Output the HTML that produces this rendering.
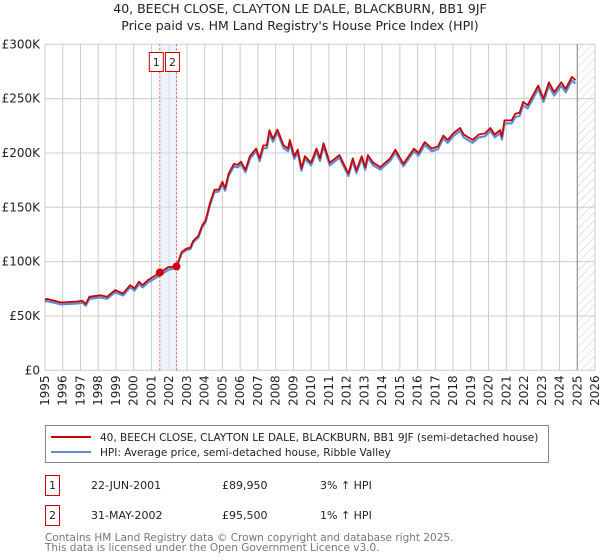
<!DOCTYPE html>
<html><head><meta charset="utf-8"><style>
body{margin:0;background:#fff;width:600px;height:560px;overflow:hidden;font-family:"Liberation Sans","DejaVu Sans",sans-serif}
svg{position:absolute;left:0;top:0}
</style></head><body>
<svg id="chart" width="600" height="560" xmlns="http://www.w3.org/2000/svg" font-family="DejaVu Sans, Liberation Sans, sans-serif">
<defs><pattern id="hatch" width="6" height="6" patternUnits="userSpaceOnUse" patternTransform="rotate(45)"><line x1="0" y1="0" x2="0" y2="6" stroke="#ccc" stroke-width="1"/></pattern></defs>
<text x="300" y="13" text-anchor="middle" font-size="12.5" fill="#222">40, BEECH CLOSE, CLAYTON LE DALE, BLACKBURN, BB1 9JF</text>
<text x="300" y="30" text-anchor="middle" font-size="12.5" fill="#222">Price paid vs. HM Land Registry's House Price Index (HPI)</text>
<g id="grid"></g><g id="marks"></g><g id="axes"></g>
<rect x="45.5" y="425.5" width="503" height="37" fill="#fff" stroke="#888"/>
<line x1="51" y1="437" x2="91" y2="437" stroke="#cc0000" stroke-width="2"/>
<text x="100" y="441" font-size="10.5" fill="#222">40, BEECH CLOSE, CLAYTON LE DALE, BLACKBURN, BB1 9JF (semi-detached house)</text>
<line x1="51" y1="452" x2="91" y2="452" stroke="#5b8fd0" stroke-width="2"/>
<text x="100" y="456" font-size="10.5" fill="#222">HPI: Average price, semi-detached house, Ribble Valley</text>
<g font-size="11" fill="#222">
<rect x="45.5" y="475.5" width="14" height="20" fill="none" stroke="#cc0000"/>
<text x="52.5" y="489" text-anchor="middle">1</text>
<text x="91" y="489">22-JUN-2001</text><text x="222" y="489">£89,950</text><text x="320" y="489">3% ↑ HPI</text></g>
<g font-size="11" fill="#222">
<rect x="45.5" y="505.5" width="14" height="20" fill="none" stroke="#cc0000"/>
<text x="52.5" y="519" text-anchor="middle">2</text>
<text x="91" y="519">31-MAY-2002</text><text x="222" y="519">£95,500</text><text x="320" y="519">1% ↑ HPI</text></g>
<text x="45" y="541" font-size="10.5" fill="#777">Contains HM Land Registry data © Crown copyright and database right 2025.</text>
<text x="45" y="551" font-size="10.5" fill="#777">This data is licensed under the Open Government Licence v3.0.</text>
</svg>
<script>
const dates=[1995.0,1995.1,1995.5,1995.9,1996.8,1997.1,1997.3,1997.5,1998.1,1998.5,1998.95,1999.4,1999.8,2000.05,2000.3,2000.5,2000.8,2001.47,2001.95,2002.41,2002.7,2002.95,2003.2,2003.35,2003.65,2003.85,2004.05,2004.3,2004.55,2004.8,2005.0,2005.15,2005.35,2005.65,2005.85,2006.05,2006.3,2006.55,2006.9,2007.1,2007.3,2007.5,2007.65,2007.85,2008.1,2008.45,2008.7,2008.8,2009.05,2009.25,2009.45,2009.65,2010.0,2010.3,2010.5,2010.7,2011.05,2011.6,2012.1,2012.35,2012.55,2012.85,2013.05,2013.2,2013.5,2013.9,2014.45,2014.75,2015.2,2015.8,2016.05,2016.4,2016.8,2017.15,2017.45,2017.7,2018.0,2018.4,2018.6,2019.1,2019.45,2019.8,2020.1,2020.35,2020.65,2020.75,2020.9,2021.3,2021.5,2021.75,2021.95,2022.2,2022.6,2022.8,2023.1,2023.4,2023.7,2024.1,2024.35,2024.7,2024.9];
const priceValues=[65,65.7,64.1,62.4,63.3,64,61.1,67.6,69,67.6,73.8,70.7,78.4,75.3,81.5,78.4,83,89.95,95,95.5,108.7,111.8,113,119,124,133,138,154,166,166.5,173.6,167.5,181,190,189,192,184.5,197,204,195,207,207,221,213,221.6,207,204,212,197,203,186,197,191,204,195,209,191,198,181,195,184,197,187,198,191,187,195,203,190,204,200,210,204,206,216,212,218,223,217,212,217,218,223,217,221,215,230,230,236,237,247,244,256,262,250,265,256,265,259,270,267];
const hpiValues=[63,63.7,62.2,60.6,61.5,62.2,59.4,65.7,67.1,65.8,71.8,68.8,76.3,73.3,79.3,76.3,80.8,87.3,92.5,94.5,107.5,110.5,111.6,117.6,122.5,131.4,136.3,152.1,164,164.5,171.5,165.4,178.8,187.7,186.7,189.6,182.2,194.6,201.5,192.6,204.4,204.4,218.3,210.4,218.9,204.5,201.5,209.4,194.6,200.5,183.7,194.6,188.6,201.5,192.6,206.4,188.6,195.6,178.8,192.6,181.7,194.6,184.7,195.6,188.6,184.7,192.6,200.5,187.7,201.5,197.5,207.4,201.5,203.5,213.4,209.4,215.3,220.3,214.3,209.4,214.3,215.3,220.3,214.3,218.3,212.4,227.2,227.2,233.1,234.1,244,241,252.9,258.8,247,261.8,252.9,261.8,255.8,266.7,263.8];
const sales=[[2001.47,89.95],[2002.41,95.5]];
const yTicks=[0,50,100,150,200,250,300];
const years=[1995,1996,1997,1998,1999,2000,2001,2002,2003,2004,2005,2006,2007,2008,2009,2010,2011,2012,2013,2014,2015,2016,2017,2018,2019,2020,2021,2022,2023,2024,2025,2026];
const X0=45,X1=595,Y0=370.3,Y1=44.3,dataEnd=2025.0;
const xs=y=>X0+(y-1995)/(2026-1995)*(X1-X0);
const ys=v=>Y0-(v/300)*(Y0-Y1);
const NS="http://www.w3.org/2000/svg";
function mk(parent,tag,attrs){const e=document.createElementNS(NS,tag);for(const k in attrs)e.setAttribute(k,attrs[k]);parent.appendChild(e);return e;}
const grid=document.getElementById('grid'),marks=document.getElementById('marks'),axes=document.getElementById('axes');
years.forEach(y=>{const l=mk(grid,'line',{x1:xs(y),x2:xs(y),y1:Y1,y2:Y0,stroke:'#ccc'});


const t=mk(axes,'text',{transform:`translate(${xs(y)+4},${Y0+5}) rotate(-90)`,'text-anchor':'end','font-size':'12',fill:'#222'});
t.textContent=y;

});
yTicks.forEach(v=>{const l=mk(grid,'line',{x1:X0,x2:X1,y1:ys(v),y2:ys(v),stroke:'#ccc'});


const t=mk(axes,'text',{x:X0-5,y:ys(v)+4,'text-anchor':'end','font-size':'12',fill:'#222'});
t.textContent=v===0?'£0':'£'+v+'K';

});
const hatch=mk(grid,'rect',{x:xs(dataEnd),y:Y1,width:X1-xs(dataEnd),height:Y0-Y1,fill:'url(#hatch)'});


const endLine=mk(grid,'line',{x1:xs(dataEnd),x2:xs(dataEnd),y1:Y1,y2:Y0,stroke:'#888','stroke-width':1});


const band=mk(grid,'rect',{x:xs(sales[0][0]),y:Y1,width:xs(sales[1][0])-xs(sales[0][0]),height:Y0-Y1,fill:'#dde8f8','fill-opacity':0.5});


sales.forEach((s,i)=>{const l=mk(grid,'line',{x1:xs(s[0]),x2:xs(s[0]),y1:Y1,y2:Y0,stroke:'#e06060','stroke-dasharray':'2,2'});


const bx=xs(s[0])+(i===0?-10.5:-11);
const r=mk(axes,'rect',{x:bx,y:52.5,width:14,height:19,fill:'#fff',stroke:'#cc0000'});


const t=mk(axes,'text',{x:bx+7,y:66,'text-anchor':'middle','font-size':'11',fill:'#222'});
t.textContent=i+1;

});
const pts=a=>dates.map((d,i)=>xs(d).toFixed(1)+','+ys(a[i]).toFixed(1)).join(' ');
const hp=mk(marks,'polyline',{points:pts(hpiValues),fill:'none',stroke:'#5b8fd0','stroke-width':2.2,'stroke-linejoin':'round'});


const pp=mk(marks,'polyline',{points:pts(priceValues),fill:'none',stroke:'#cc0000','stroke-width':1.8,'stroke-linejoin':'round'});


sales.forEach(s=>{const c=mk(marks,'circle',{cx:xs(s[0]),cy:ys(s[1]),r:4,fill:'#cc0000'});

});
</script>
</body></html>
